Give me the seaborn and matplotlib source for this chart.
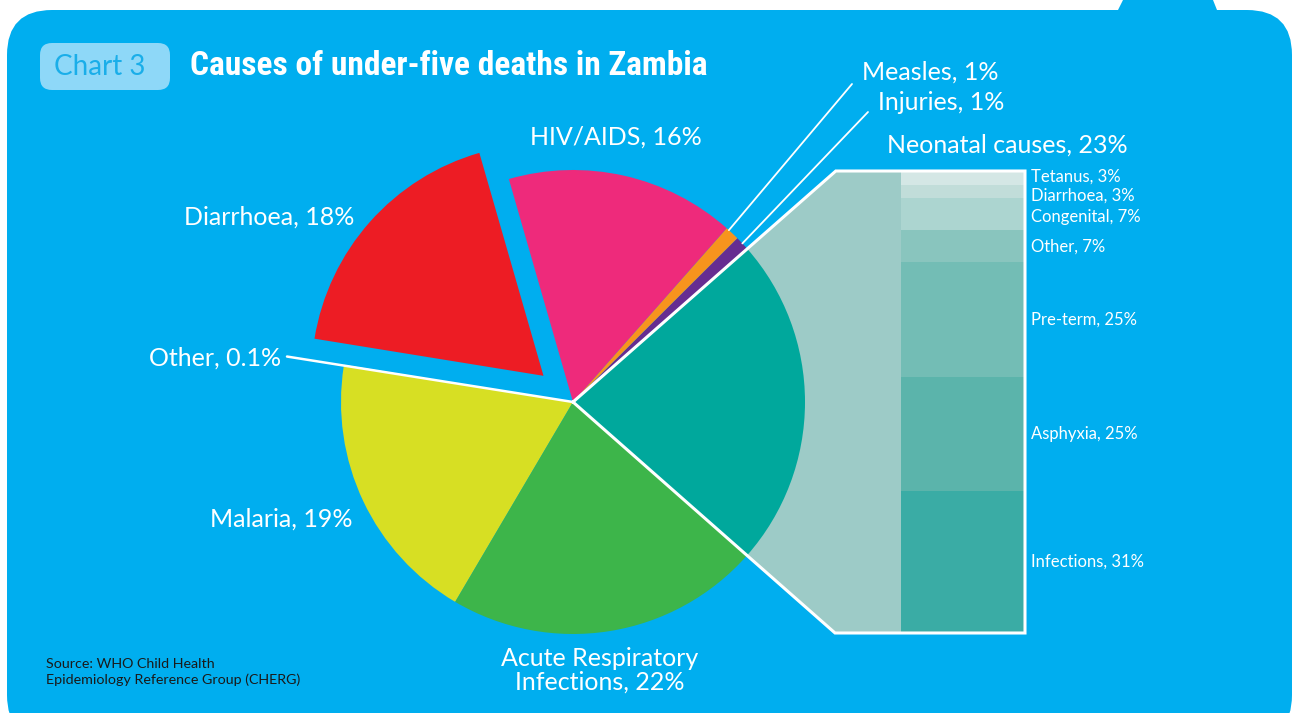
import matplotlib
matplotlib.use("Agg")
import matplotlib.pyplot as plt
import numpy as np
import seaborn as sns
from matplotlib.patches import FancyBboxPatch, Polygon

# ---- data -------------------------------------------------------------
causes = ["Neonatal causes", "Injuries", "Measles", "HIV/AIDS", "Diarrhoea",
          "Other", "Malaria", "Acute Respiratory\nInfections"]
shares = [23, 1, 1, 16, 18, 0.1, 19, 22]
pie_colors = ["#00a89c", "#662d91", "#f7941d", "#ee2a7b", "#ed1c24",
              "#ffffff", "#d7df23", "#3db54a"]

neonatal_causes = ["Tetanus", "Diarrhoea", "Congenital", "Other",
                   "Pre-term", "Asphyxia", "Infections"]
neonatal_shares = [3, 3, 7, 7, 25, 25, 31]
neonatal_colors = ["#d4e7e5", "#c1ddd9", "#acd5d0", "#89c5be",
                   "#73bdb5", "#5bb4ab", "#3aaca5"]

BLUE = "#00aeef"
FILL = "#9dcbc7"
W, H = 1293, 713


def py(y):
    """pixel row (top-down) -> data y (bottom-up)"""
    return H - y


sns.set_theme(style="white")
plt.rcParams["font.family"] = ["Lato", "DejaVu Sans"]

fig = plt.figure(figsize=(W / 100, H / 100), dpi=100, facecolor="white")
ax = fig.add_axes([0, 0, 1, 1])

# panel background + tab
ax.add_patch(FancyBboxPatch((7, py(740)), 1285, 730, boxstyle="round,pad=0,rounding_size=45",
                            fc=BLUE, ec="none", zorder=0))
ax.add_patch(Polygon([(1118, py(10)), (1123, py(0)), (1213, py(0)), (1217, py(10))],
                     closed=True, fc=BLUE, ec="none", zorder=0))

# ---- pie ----------------------------------------------------------------
cx, cy, R = 573, py(402), 232
explode = [0.17 * R if c == "Diarrhoea" else 0 for c in causes]
wedges, _ = ax.pie(shares, colors=pie_colors, startangle=-41.4, counterclock=True,
                   center=(cx, cy), radius=R, explode=explode, frame=True,
                   wedgeprops=dict(linewidth=0))
for w in wedges:
    w.set_zorder(3)

# bar of pie connection
neo = wedges[0]
bar_left, bar_right = 901, 1025
bar_top, bar_bot = py(171), py(633)
t_up, t_dn = np.radians(neo.theta2), np.radians(neo.theta1)
d_up = (bar_top - cy) / np.sin(t_up)
d_dn = (bar_bot - cy) / np.sin(t_dn)
up_corner = (cx + d_up * np.cos(t_up), bar_top)
dn_corner = (cx + d_dn * np.cos(t_dn), bar_bot)
ax.add_patch(Polygon([(cx, cy), up_corner, (bar_left, bar_top), (bar_left, bar_bot), dn_corner],
                     closed=True, fc=FILL, ec="none", zorder=1))

# stacked neonatal bar (bottom-up)
scale = (bar_top - bar_bot) / sum(neonatal_shares)
bottom = bar_bot
mids = {}
for name, val, col in list(zip(neonatal_causes, neonatal_shares, neonatal_colors))[::-1]:
    ax.bar((bar_left + bar_right) / 2, val * scale, bottom=bottom, width=bar_right - bar_left,
           color=col, linewidth=0, zorder=2)
    mids[name] = bottom + val * scale / 2
    bottom += val * scale

# white outline lines
ax.plot([cx, up_corner[0], bar_right, bar_right, dn_corner[0], cx],
        [cy, bar_top, bar_top, bar_bot, bar_bot, cy],
        color="white", lw=2.2, zorder=4, solid_joinstyle="miter")

nudge = {"Tetanus": 1, "Diarrhoea": -4, "Congenital": -3}
for name, val in zip(neonatal_causes, neonatal_shares):
    ax.text(1031, mids[name] + nudge.get(name, 0), f"{name}, {val}%", color="white",
            fontsize=12, ha="left", va="center", zorder=5)

# leader lines for small slices
def wedge_point(w, r, frac=0.5):
    t = np.radians(w.theta1 + frac * (w.theta2 - w.theta1))
    cxx, cyy = w.center
    return cxx + r * np.cos(t), cyy + r * np.sin(t), t

mx, my, _ = wedge_point(wedges[2], R, 0.8)
ax.plot([mx, 852], [my, py(84)], color="white", lw=1.3, zorder=4)
ix, iy, _ = wedge_point(wedges[1], R, 0.5)
ax.plot([ix, 868], [iy, py(112)], color="white", lw=1.3, zorder=4)
_, _, t_oth = wedge_point(wedges[5], R)
d_oth = (287 - cx) / np.cos(t_oth)
ax.plot([cx, cx + d_oth * np.cos(t_oth)], [cy, cy + d_oth * np.sin(t_oth)],
        color="white", lw=1.8, zorder=4)

# ---- labels -------------------------------------------------------------
lab = dict(color="white", fontsize=18, va="center", zorder=5)
ax.text(862, py(72), f"{causes[2]}, {shares[2]:g}%", ha="left", **lab)
ax.text(878, py(103), f"{causes[1]}, {shares[1]:g}%", ha="left", **lab)
ax.text(887, py(145), f"{causes[0]}, {shares[0]:g}%", ha="left", **lab)
ax.text(616, py(137), f"{causes[3]}, {shares[3]:g}%", ha="center", **lab)
ax.text(354, py(217), f"{causes[4]}, {shares[4]:g}%", ha="right", **lab)
ax.text(281, py(358), f"{causes[5]}, {shares[5]:g}%", ha="right", **lab)
ax.text(352, py(519), f"{causes[6]}, {shares[6]:g}%", ha="right", **lab)
ax.text(600, py(670), f"{causes[7]}, {shares[7]:g}%", ha="center", linespacing=1.05, **lab)

# title block
ax.add_patch(FancyBboxPatch((40, py(90)), 130, 47, boxstyle="round,pad=0,rounding_size=12",
                            fc="#8ed8f8", ec="none", zorder=1))
ax.text(100, py(67), "Chart 3", color="#1aaee9", fontsize=20, ha="center", va="center", zorder=5)
ax.text(190, py(66), "Causes of under-five deaths in Zambia", color="white", fontsize=24,
        fontweight="bold", fontstretch="condensed",
        family=["Roboto Condensed", "Roboto", "DejaVu Sans"],
        ha="left", va="center", zorder=5)

ax.text(46, py(672), "Source: WHO Child Health\nEpidemiology Reference Group (CHERG)",
        color="#1a1a1a", fontsize=10.3, ha="left", va="center", linespacing=1.3, zorder=5)

ax.set_xlim(0, W)
ax.set_ylim(0, H)
ax.set_aspect("equal")
ax.axis("off")

fig.savefig("out.png", dpi=100, facecolor="white")
